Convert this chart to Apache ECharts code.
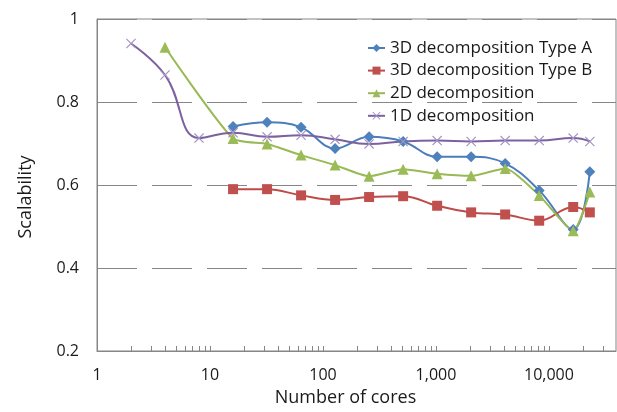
<!DOCTYPE html>
<html>
<head>
<meta charset="utf-8">
<script src="https://cdn.jsdelivr.net/npm/echarts@6/dist/echarts.min.js"></script>
<style>
  html, body { margin: 0; padding: 0; background: #fff; }
  #chart { width: 617px; height: 412px; }
</style>
</head>
<body>
<div id="chart"></div>
<script>
// 核数（横轴，对数坐标）
var cores = [2, 4, 8, 16, 32, 64, 128, 256, 512, 1024, 2048, 4096, 8192, 16384, 23000];
// 各分解方式的可扩展性
var typeA = [null, null, null, 0.741, 0.751, 0.739, 0.688, 0.716, 0.705, 0.668, 0.668, 0.652, 0.587, 0.493, 0.632];
var typeB = [null, null, null, 0.590, 0.590, 0.575, 0.564, 0.571, 0.573, 0.550, 0.534, 0.529, 0.514, 0.547, 0.534];
var decomp2D = [null, 0.932, null, 0.712, 0.699, 0.672, 0.648, 0.621, 0.638, 0.627, 0.622, 0.640, 0.575, 0.490, 0.583];
var decomp1D = [0.941, 0.865, 0.713, 0.726, 0.716, 0.720, 0.710, 0.699, 0.705, 0.707, 0.705, 0.707, 0.707, 0.713, 0.705];
var seriesNames = ['3D decomposition Type A', '3D decomposition Type B', '2D decomposition', '1D decomposition'];
// 刻度
var xLabelValues = [1, 10, 100, 1000, 10000];
var xTickValues = [2, 3, 4, 5, 6, 7, 8, 9, 10, 20, 30, 40, 50, 60, 70, 80, 90, 100,
    200, 300, 400, 500, 600, 700, 800, 900, 1000, 2000, 3000, 4000, 5000, 6000, 7000, 8000, 9000, 10000,
    20000, 30000];

var crossPath = 'path://M0,0.8L0.8,0L5,4.2L9.2,0L10,0.8L5.8,5L10,9.2L9.2,10L5,5.8L0.8,10L0,9.2L4.2,5Z';

function pairs(values) {
    var out = [];
    for (var i = 0; i < cores.length; i++) {
        if (values[i] != null) out.push([cores[i], values[i]]);
    }
    return out;
}

function makeSeries(name, values, lineColor, markColor, symbol, size, smooth) {
    return {
        name: name,
        type: 'line',
        data: pairs(values),
        smooth: smooth,
        symbol: symbol,
        symbolSize: size,
        showAllSymbol: true,
        lineStyle: { color: lineColor, width: 2 },
        itemStyle: { color: markColor },
        emphasis: { disabled: true }
    };
}

var myChart = echarts.init(document.getElementById('chart'));
var textColor = '#1a1a1a';
var option = {
    animation: false,
    backgroundColor: '#fff',
    grid: {
        left: 97,
        right: 1,
        top: 19,
        bottom: 60,
        show: true,
        borderColor: '#868686',
        borderWidth: 1
    },
    legend: {
        orient: 'vertical',
        left: 362,
        top: 34,
        itemWidth: 17,
        itemHeight: 10,
        itemGap: 4.6,
        data: seriesNames,
        textStyle: { fontFamily: 'Open Sans', fontSize: 17, color: textColor, lineHeight: 18 }
    },
    xAxis: {
        type: 'log',
        logBase: 10,
        min: 1,
        max: 39200,
        name: 'Number of cores',
        nameLocation: 'middle',
        nameGap: 38,
        nameTextStyle: { fontFamily: 'Open Sans', fontSize: 18, color: textColor, padding: [0, 22, 0, 0] },
        axisLine: { lineStyle: { color: '#868686', width: 1 } },
        axisTick: { show: true, inside: true, length: 5, customValues: xTickValues, lineStyle: { color: '#868686' } },
        minorTick: { show: false },
        splitLine: { show: false },
        axisLabel: {
            customValues: xLabelValues,
            margin: 16,
            fontFamily: 'Open Sans',
            fontSize: 16,
            color: textColor,
            formatter: function (v) { return Number(v).toLocaleString('en-US'); }
        }
    },
    yAxis: {
        type: 'value',
        min: 0.2,
        max: 1,
        interval: 0.2,
        name: 'Scalability',
        nameLocation: 'middle',
        nameGap: 62,
        nameRotate: 90,
        nameTextStyle: { fontFamily: 'Open Sans', fontSize: 18, color: textColor, padding: [0, 24, 0, 0] },
        axisLine: { show: true, lineStyle: { color: '#868686', width: 1 } },
        axisTick: { show: false },
        splitLine: { lineStyle: { color: '#868686', width: 1, type: [40, 15] } },
        axisLabel: {
            margin: 18,
            fontFamily: 'Open Sans',
            fontSize: 16,
            color: textColor,
            formatter: function (v) { return Math.abs(v - 1) < 1e-9 ? '1' : v.toFixed(1); }
        }
    },
    series: [
        makeSeries(seriesNames[0], typeA, '#4A7EBB', '#4F81BD', 'diamond', 11, 0.4),
        makeSeries(seriesNames[1], typeB, '#BE4B48', '#C0504D', 'rect', 10, 0.4),
        makeSeries(seriesNames[2], decomp2D, '#98B954', '#9BBB59', 'triangle', 11, 0.2),
        makeSeries(seriesNames[3], decomp1D, '#7D60A0', '#A391C4', crossPath, 10, 0.45)
    ]
};
myChart.setOption(option);
</script>
</body>
</html>
